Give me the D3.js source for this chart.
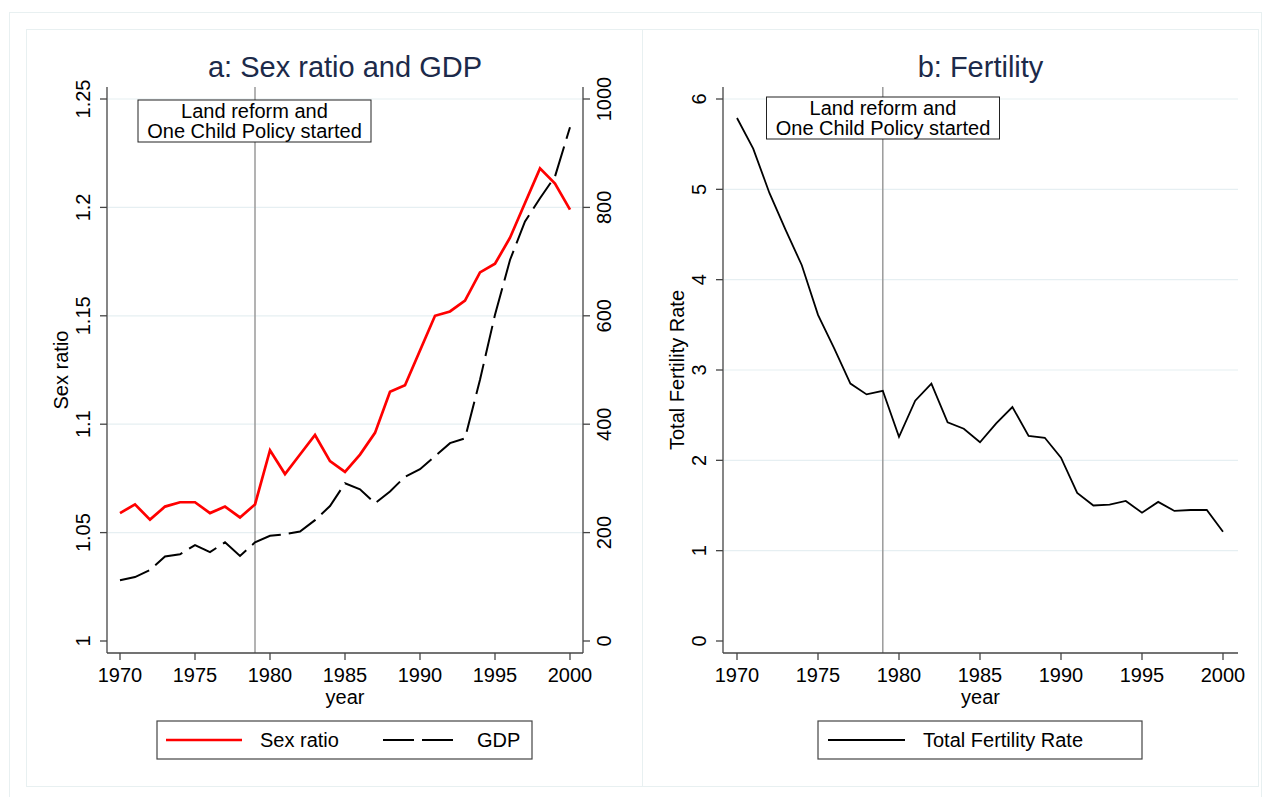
<!DOCTYPE html>
<html><head><meta charset="utf-8">
<script src="https://cdn.jsdelivr.net/npm/d3@7"></script>
<style>
html,body{margin:0;padding:0;background:#fff;}
text{font-family:"Liberation Sans",Arial,Helvetica,sans-serif;fill:#000;}
</style></head>
<body><svg id="c" width="1265" height="797"></svg>
<script>
const years = [1970,1971,1972,1973,1974,1975,1976,1977,1978,1979,1980,1981,1982,1983,1984,1985,1986,1987,1988,1989,1990,1991,1992,1993,1994,1995,1996,1997,1998,1999,2000];
const sexRatio = [1.059,1.063,1.056,1.062,1.064,1.064,1.059,1.062,1.057,1.063,1.088,1.077,1.086,1.095,1.083,1.078,1.086,1.096,1.115,1.118,1.134,1.150,1.152,1.157,1.170,1.174,1.186,1.202,1.218,1.211,1.199];
const gdp = [112,118,131,156,160,177,164,182,157,182,194,197,202,223,249,291,280,254,276,303,317,341,365,374,482,602,703,774,817,857,948];
const tfr = [5.79,5.45,4.96,4.55,4.16,3.61,3.24,2.85,2.73,2.77,2.26,2.66,2.85,2.42,2.35,2.20,2.41,2.59,2.27,2.25,2.03,1.64,1.50,1.51,1.55,1.42,1.54,1.44,1.45,1.45,1.21];
const xTicks = [1970,1975,1980,1985,1990,1995,2000];
const sexTicks = [1,1.05,1.1,1.15,1.2,1.25];
const sexTickLabels = ["1","1.05","1.1","1.15","1.2","1.25"];
const gdpTicks = [0,200,400,600,800,1000];
const tfrTicks = [0,1,2,3,4,5,6];
const policyYear = 1979;
const titles = ["a: Sex ratio and GDP","b: Fertility"];
const noteLines = ["Land reform and","One Child Policy started"];

const svg = d3.select("#c");
const gridCol = "#e6eff2", axisCol = "#444", frameCol = "#e8f0f1";

// frames
svg.append("rect").attr("x",9.5).attr("y",12.5).attr("width",1252).attr("height",800).attr("fill","none").attr("stroke",frameCol);
svg.append("rect").attr("x",26.5).attr("y",29.5).attr("width",616).attr("height",757).attr("fill","none").attr("stroke",frameCol);
svg.append("rect").attr("x",642.5).attr("y",29.5).attr("width",616).attr("height",757).attr("fill","none").attr("stroke",frameCol);

function xAxis(g, x, yb, x0, x1){
  g.append("line").attr("x1",x0).attr("x2",x1).attr("y1",yb).attr("y2",yb).attr("stroke",axisCol).attr("stroke-width",1.3);
  xTicks.forEach(t=>{
    g.append("line").attr("x1",x(t)).attr("x2",x(t)).attr("y1",yb).attr("y2",yb+7).attr("stroke",axisCol).attr("stroke-width",1.3);
    g.append("text").attr("x",x(t)).attr("y",yb+29).attr("text-anchor","middle").attr("font-size",20).text(t);
  });
}
function yAxis(g, y, ticks, labels, xa, side, y0, y1){
  g.append("line").attr("x1",xa).attr("x2",xa).attr("y1",y0).attr("y2",y1).attr("stroke",axisCol).attr("stroke-width",1.3);
  ticks.forEach((t,i)=>{
    const dx = side==="left" ? -7 : 7;
    g.append("line").attr("x1",xa).attr("x2",xa+dx).attr("y1",y(t)).attr("y2",y(t)).attr("stroke",axisCol).attr("stroke-width",1.3);
    const tx = side==="left" ? xa-17 : xa+28;
    g.append("text").attr("transform",`translate(${tx},${y(t)}) rotate(-90)`).attr("text-anchor","middle").attr("font-size",20).text(labels[i]);
  });
}
function grid(g, y, ticks, x0, x1){
  ticks.forEach(t=>{
    g.append("line").attr("x1",x0).attr("x2",x1).attr("y1",y(t)).attr("y2",y(t)).attr("stroke",gridCol).attr("stroke-width",1.2);
  });
}
function note(g, cx, top){
  const w=233, h=42;
  g.append("rect").attr("x",cx-w/2).attr("y",top).attr("width",w).attr("height",h).attr("fill","#fff").attr("stroke","#222").attr("stroke-width",1);
  g.append("text").attr("x",cx).attr("y",top+18).attr("text-anchor","middle").attr("font-size",20).text(noteLines[0]);
  g.append("text").attr("x",cx).attr("y",top+38).attr("text-anchor","middle").attr("font-size",20).text(noteLines[1]);
}

// ---------- Panel a ----------
const ga = svg.append("g");
const xa = d3.scaleLinear().domain([1970,2000]).range([120,570]);
const ySex = d3.scaleLinear().domain([1,1.25]).range([641,99]);
const yGdp = d3.scaleLinear().domain([0,1000]).range([641,99]);
grid(ga, ySex, sexTicks.slice(1), 108, 583);
ga.append("line").attr("x1",xa(policyYear)).attr("x2",xa(policyYear)).attr("y1",87).attr("y2",653).attr("stroke","#9a9a9a").attr("stroke-width",1.5);
note(ga, 254.5, 100);
ga.append("path").datum(years.map((y,i)=>[y,gdp[i]]))
  .attr("d",d3.line().x(d=>xa(d[0])).y(d=>yGdp(d[1])))
  .attr("fill","none").attr("stroke","#000").attr("stroke-width",2).attr("stroke-dasharray","31,8");
ga.append("path").datum(years.map((y,i)=>[y,sexRatio[i]]))
  .attr("d",d3.line().x(d=>xa(d[0])).y(d=>ySex(d[1])))
  .attr("fill","none").attr("stroke","#ff0000").attr("stroke-width",2.7).attr("stroke-linejoin","miter");
xAxis(ga, xa, 653, 107, 583);
yAxis(ga, ySex, sexTicks, sexTickLabels, 107, "left", 87, 653);
yAxis(ga, yGdp, gdpTicks, gdpTicks.map(String), 583, "right", 87, 653);
ga.append("text").attr("x",345).attr("y",77).attr("text-anchor","middle").attr("font-size",29).style("fill","#1c2a4a").text(titles[0]);
ga.append("text").attr("x",345).attr("y",704).attr("text-anchor","middle").attr("font-size",20).text("year");
ga.append("text").attr("transform","translate(68,370) rotate(-90)").attr("text-anchor","middle").attr("font-size",20).text("Sex ratio");
// legend a
ga.append("rect").attr("x",157).attr("y",721).attr("width",375).attr("height",38).attr("fill","#fff").attr("stroke","#444").attr("stroke-width",1.2);
ga.append("line").attr("x1",166).attr("x2",242).attr("y1",740).attr("y2",740).attr("stroke","#ff0000").attr("stroke-width",2.7);
ga.append("text").attr("x",260).attr("y",747).attr("font-size",20).text("Sex ratio");
ga.append("line").attr("x1",383).attr("x2",454).attr("y1",740).attr("y2",740).attr("stroke","#000").attr("stroke-width",2).attr("stroke-dasharray","31,8");
ga.append("text").attr("x",477).attr("y",747).attr("font-size",20).text("GDP");

// ---------- Panel b ----------
const gb = svg.append("g");
const xb = d3.scaleLinear().domain([1970,2000]).range([737,1223]);
const yT = d3.scaleLinear().domain([0,6]).range([641,99]);
grid(gb, yT, tfrTicks.slice(1), 724, 1238);
gb.append("line").attr("x1",xb(policyYear)).attr("x2",xb(policyYear)).attr("y1",87).attr("y2",653).attr("stroke","#9a9a9a").attr("stroke-width",1.5);
note(gb, 883, 97);
gb.append("path").datum(years.map((y,i)=>[y,tfr[i]]))
  .attr("d",d3.line().x(d=>xb(d[0])).y(d=>yT(d[1])))
  .attr("fill","none").attr("stroke","#000").attr("stroke-width",1.8);
xAxis(gb, xb, 653, 723, 1238);
yAxis(gb, yT, tfrTicks, tfrTicks.map(String), 723, "left", 87, 653);
gb.append("text").attr("x",980.5).attr("y",77).attr("text-anchor","middle").attr("font-size",29).style("fill","#1c2a4a").text(titles[1]);
gb.append("text").attr("x",980.5).attr("y",704).attr("text-anchor","middle").attr("font-size",20).text("year");
gb.append("text").attr("transform","translate(684,370) rotate(-90)").attr("text-anchor","middle").attr("font-size",20).text("Total Fertility Rate");
gb.append("rect").attr("x",818).attr("y",721).attr("width",324).attr("height",38).attr("fill","#fff").attr("stroke","#444").attr("stroke-width",1.2);
gb.append("line").attr("x1",828).attr("x2",905).attr("y1",740).attr("y2",740).attr("stroke","#000").attr("stroke-width",2);
gb.append("text").attr("x",923).attr("y",747).attr("font-size",20).text("Total Fertility Rate");
</script></body></html>
